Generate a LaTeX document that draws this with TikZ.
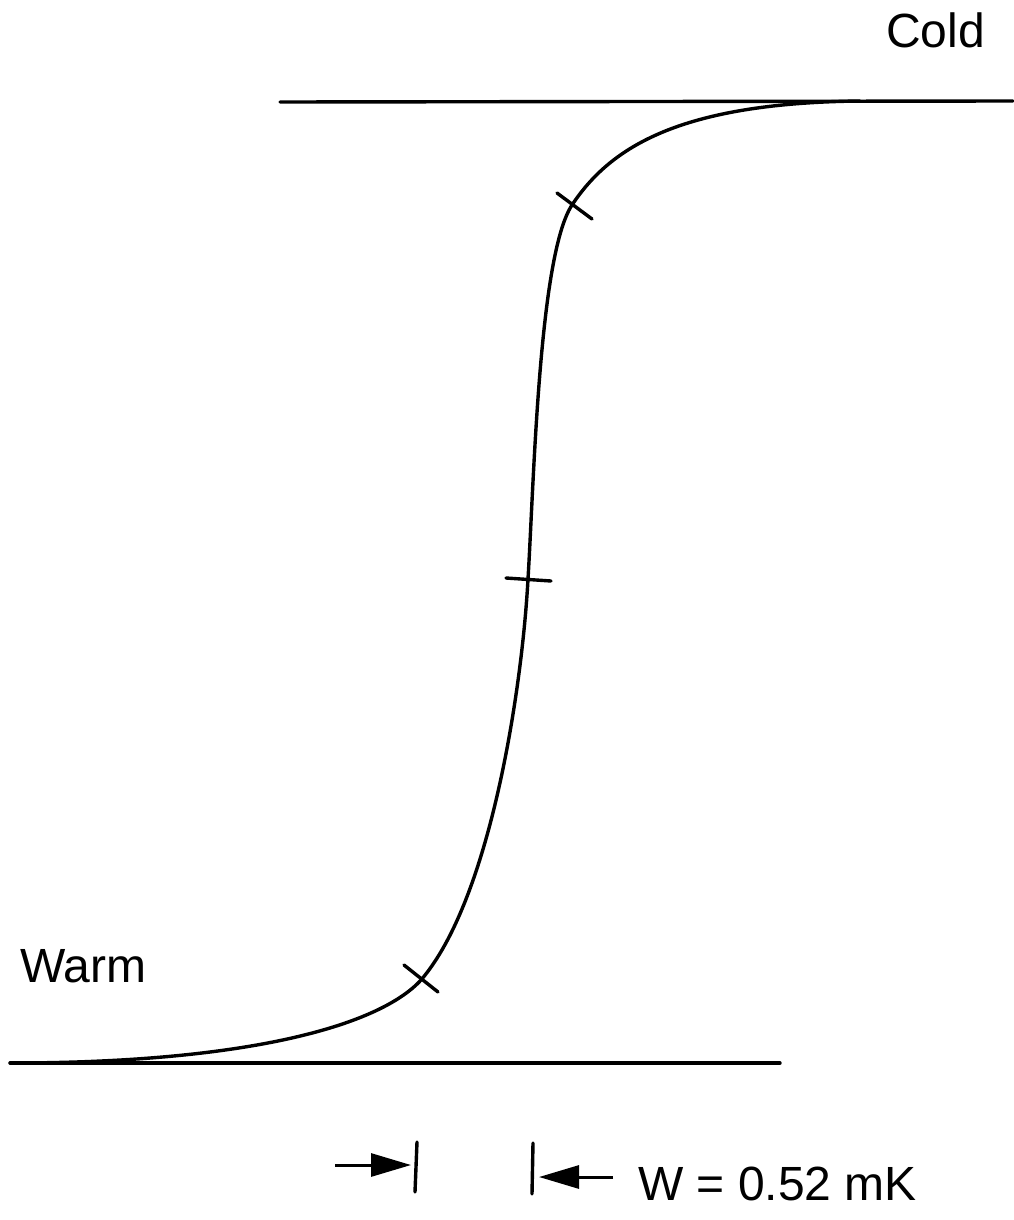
\documentclass[tikz,border=0pt]{standalone}
\usepackage{fontspec}
\setmainfont{Liberation Sans}
\usetikzlibrary{arrows.meta}
\begin{document}
\begin{tikzpicture}[x=1pt,y=-1pt,
  ln/.style={line width=3.4pt,line cap=round},
  lbl/.style={inner sep=0pt,anchor=base west,font=\fontsize{48}{56}\selectfont},
  dimarrow/.style={line width=3pt,-{Triangle[length=40pt,width=23pt]}}]
\useasboundingbox (0,0) rectangle (1013,1220);
% levels
\coordinate (topL) at (280,102);
\coordinate (topR) at (1013,101);
\coordinate (botL) at (10,1063);
\coordinate (botR) at (780,1063);
\draw[ln] (topL) -- (topR);
\draw[ln] (botL) -- (botR);
% transition curve
\coordinate (c0) at (10,1063);
\coordinate (c1) at (421,980);
\coordinate (c2) at (528,579);
\coordinate (c3) at (572,205);
\coordinate (c4) at (860,101);
\draw[ln,line join=round] (c0)
  .. controls (250,1063) and (380,1025) .. (c1)
  .. controls (490,900) and (522,690) .. (c2)
  .. controls (534,480) and (539,255) .. (c3)
  .. controls (610.5,147) and (680,103) .. (c4);
% marks
\coordinate (m1a) at (404,965); \coordinate (m1b) at (438,992);
\coordinate (m2a) at (506,578); \coordinate (m2b) at (551,581);
\coordinate (m3a) at (557,193); \coordinate (m3b) at (592,219);
\draw[ln] (m1a) -- (m1b);
\draw[ln] (m2a) -- (m2b);
\draw[ln] (m3a) -- (m3b);
% width indicator
\coordinate (barLt) at (417,1142); \coordinate (barLb) at (415,1192);
\coordinate (barRt) at (533,1143); \coordinate (barRb) at (532,1194);
\draw[ln] (barLt) -- (barLb);
\draw[ln] (barRt) -- (barRb);
\coordinate (aLs) at (335,1165); \coordinate (aLe) at (411,1165);
\coordinate (aRs) at (613,1177); \coordinate (aRe) at (539,1177);
\draw[dimarrow] (aLs) -- (aLe);
\draw[dimarrow] (aRs) -- (aRe);
% labels
\node[lbl] (cold) at (886,48) {Cold};
\node[lbl] (warm) at (20,982) {Warm};
\node[lbl] (w) at (638,1200) {W = 0.52 mK};
\end{tikzpicture}
\end{document}
